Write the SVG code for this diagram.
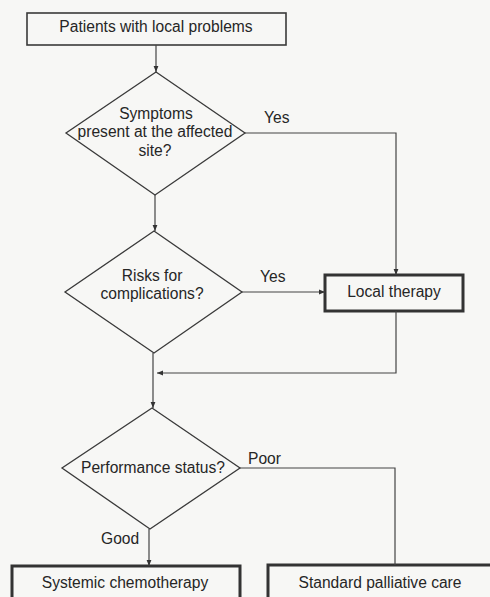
<svg xmlns="http://www.w3.org/2000/svg" width="490" height="597" viewBox="0 0 490 597">
<style>
text{font-family:"Liberation Sans",Arial,sans-serif;font-size:15.6px;fill:#262626;text-anchor:middle}
.shape{fill:none;stroke:#3a3a3a;stroke-width:1.3}
.thick{fill:none;stroke:#333;stroke-width:3}
.med{fill:none;stroke:#3a3a3a;stroke-width:1.6}
.conn{fill:none;stroke:#444;stroke-width:1.2}
.lbl{text-anchor:start}
</style>
<defs>
<marker id="arr" viewBox="0 0 10 10" refX="10" refY="5" markerWidth="6" markerHeight="6" orient="auto" markerUnits="userSpaceOnUse">
<path d="M0,1 L10,5 L0,9 z" fill="#333"/>
</marker>
</defs>
<rect width="490" height="597" fill="#f7f7f5"/>
<g id="start">
<rect class="med" x="27" y="13" width="259" height="32"/>
<text x="156" y="32">Patients with local problems</text>
</g>
<g id="symptoms">
<polygon class="shape" points="156,72 245,133 155,195 66,133"/>
<text x="156" y="119">Symptoms</text>
<text x="155" y="137">present at the affected</text>
<text x="155" y="156">site?</text>
</g>
<g id="risks">
<polygon class="shape" points="154,231 242,292 154,353 65,292"/>
<text x="152" y="281">Risks for</text>
<text x="152" y="299">complications?</text>
</g>
<g id="local">
<rect class="thick" x="325" y="275" width="138" height="36"/>
<text x="394" y="297">Local therapy</text>
</g>
<g id="performance">
<polygon class="shape" points="152,408 240,468 150,529 62,468"/>
<text x="153" y="473">Performance status?</text>
</g>
<g id="chemo">
<rect class="thick" x="12" y="566" width="228" height="50"/>
<text x="125" y="588">Systemic chemotherapy</text>
</g>
<g id="palliative">
<rect class="thick" x="268" y="565" width="240" height="50"/>
<text x="380" y="588">Standard palliative care</text>
</g>
<g id="connectors">
<path class="conn" d="M156,45 V72" marker-end="url(#arr)"/>
<path class="conn" d="M245,133 H396 V275" marker-end="url(#arr)"/>
<path class="conn" d="M155,195 V231" marker-end="url(#arr)"/>
<path class="conn" d="M242,292 H325" marker-end="url(#arr)"/>
<path class="conn" d="M396,311 V373 H157" marker-end="url(#arr)"/>
<path class="conn" d="M153,353 V408" marker-end="url(#arr)"/>
<path class="conn" d="M240,468 H395 V565"/>
<path class="conn" d="M149,529 V566" marker-end="url(#arr)"/>
<text class="lbl" x="264" y="123">Yes</text>
<text class="lbl" x="260" y="282">Yes</text>
<text class="lbl" x="248" y="464">Poor</text>
<text class="lbl" x="101" y="544">Good</text>
</g>
</svg>
